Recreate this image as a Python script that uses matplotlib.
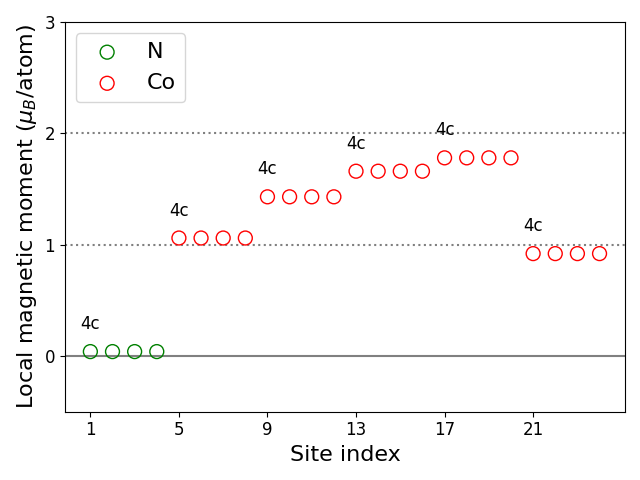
import matplotlib
matplotlib.use("Agg")
import matplotlib.pyplot as plt

# site data
n_sites = [1, 2, 3, 4]
n_moments = [0.04, 0.04, 0.04, 0.04]

co_sites = list(range(5, 25))
co_moments = [1.06, 1.06, 1.06, 1.06,
              1.43, 1.43, 1.43, 1.43,
              1.66, 1.66, 1.66, 1.66,
              1.78, 1.78, 1.78, 1.78,
              0.92, 0.92, 0.92, 0.92]

# wyckoff labels: first site of each group
label_sites = [1, 5, 9, 13, 17, 21]
label_values = [0.04, 1.06, 1.43, 1.66, 1.78, 0.92]
label_text = "4c"

xticks = [1, 5, 9, 13, 17, 21]

fig, ax = plt.subplots(figsize=(6.4, 4.8), dpi=100)

ax.axhline(0, color="gray", lw=1.5, zorder=0)
ax.axhline(1, color="gray", lw=1.5, ls=":", zorder=0)
ax.axhline(2, color="gray", lw=1.5, ls=":", zorder=0)

ax.scatter(n_sites, n_moments, s=100, facecolors="none", edgecolors="green", label="N")
ax.scatter(co_sites, co_moments, s=100, facecolors="none", edgecolors="red", label="Co")

for x, y in zip(label_sites, label_values):
    ax.text(x, y + 0.165, label_text, fontsize=12, ha="center", va="bottom")

ax.set_ylim(-0.5, 3)
ax.set_xticks(xticks)
ax.set_yticks([0, 1, 2, 3])
ax.tick_params(labelsize=12)
ax.set_xlabel("Site index", fontsize=16)
ax.set_ylabel(r"Local magnetic moment ($\mu_B$/atom)", fontsize=16)
ax.legend(loc="upper left", fontsize=16)

plt.tight_layout()
plt.savefig("out.png")
